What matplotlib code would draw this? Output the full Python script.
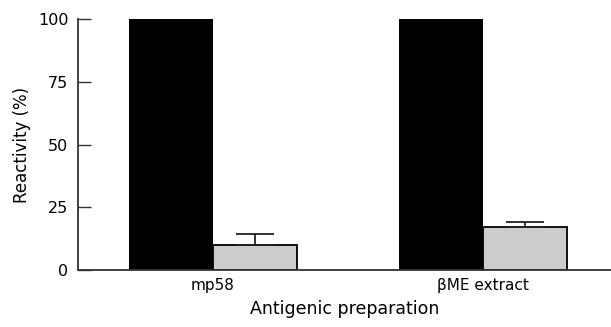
import matplotlib
matplotlib.use("Agg")
import matplotlib.pyplot as plt
import numpy as np

groups = ["mp58", "βME extract"]
black_vals = [100, 100]
gray_vals = [10, 17]
gray_err = [4.3, 2.0]

def main():
    fig = plt.figure(figsize=(6.11, 3.27), dpi=100)
    ax = fig.add_axes([0.1277, 0.1743, 0.8723, 0.7676])
    x = np.arange(len(groups))
    w = 0.31
    ax.bar(x - w / 2, black_vals, w, color="black", edgecolor="black", linewidth=0)
    ax.bar(x + w / 2, gray_vals, w, color="#cccccc", edgecolor="black", linewidth=1.3,
           yerr=[np.zeros(len(gray_err)), gray_err], error_kw=dict(ecolor="#222222", elinewidth=1.3, capsize=14, capthick=1.3))

    ax.set_xlim(-0.5, 1.474)
    ax.set_ylim(0, 100)
    ax.set_yticks([0, 25, 50, 75, 100])
    ax.set_xticks(x)
    ax.set_xticklabels(groups)
    ax.tick_params(axis="y", direction="in", length=9.5, width=1, colors="#333333", labelsize=11.5, pad=7, labelcolor="black")
    ax.tick_params(axis="x", length=0, labelsize=11, pad=6)
    for s in ["top", "right"]:
        ax.spines[s].set_visible(False)
    for s in ["left", "bottom"]:
        ax.spines[s].set_linewidth(1.3)
        ax.spines[s].set_color("#333333")
    ax.set_ylabel("Reactivity (%)", fontsize=12, labelpad=5)
    ax.set_xlabel("Antigenic preparation", fontsize=12.5, labelpad=5)
    fig.savefig("out.png", dpi=100)

if __name__ == '__main__':
    main()
